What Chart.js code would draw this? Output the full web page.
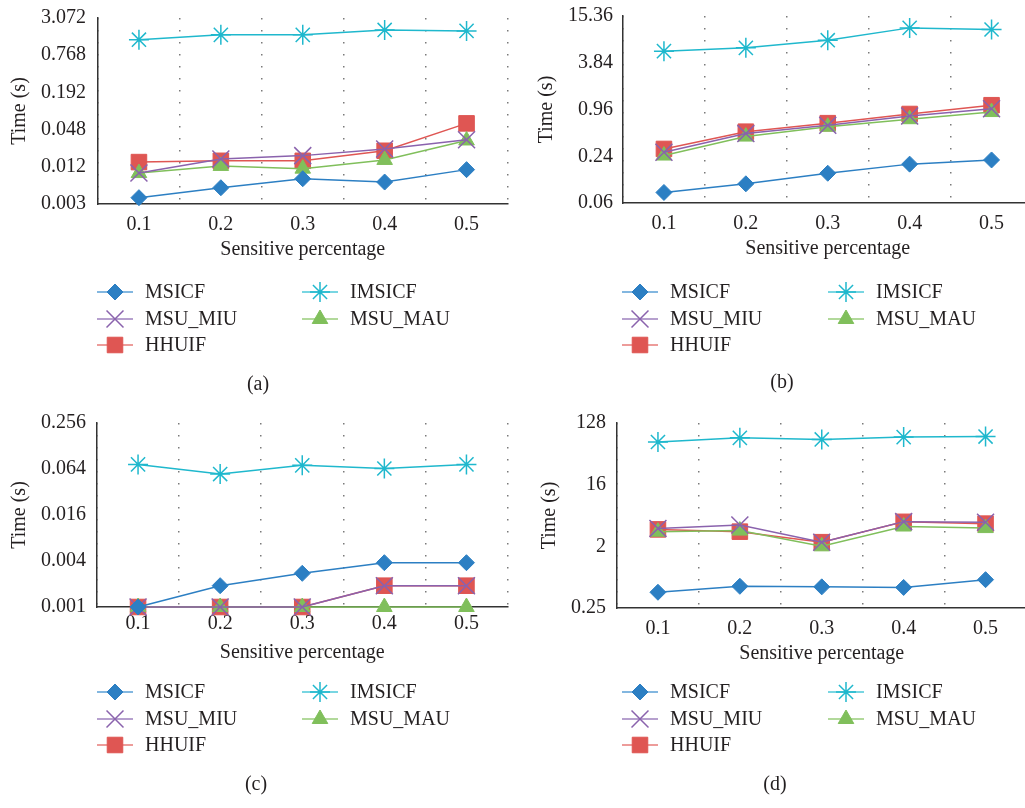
<!DOCTYPE html>
<html>
<head>
<meta charset="utf-8">
<script src="https://cdn.jsdelivr.net/npm/chart.js@4.4.0/dist/chart.umd.min.js"></script>
<style>
  body { margin: 0; background: #fff; width: 1025px; height: 808px; overflow: hidden; position: relative; }
  canvas { position: absolute; }
</style>
</head>
<body>
<canvas id="chartA" width="521" height="406" style="left:0;top:-6px"></canvas>
<canvas id="chartB" width="534" height="406" style="left:512px;top:-6px"></canvas>
<canvas id="chartC" width="521" height="408" style="left:0;top:400px"></canvas>
<canvas id="chartD" width="528" height="408" style="left:512px;top:400px"></canvas>
<script>
// categories and series names
var categories = ['0.1', '0.2', '0.3', '0.4', '0.5'];
var seriesNames = ['MSICF', 'IMSICF', 'MSU_MIU', 'MSU_MAU', 'HHUIF'];

// (a)
var aMSICF   = [0.0038, 0.0055, 0.0077, 0.0068, 0.0108];
var aIMSICF  = [1.37, 1.64, 1.64, 1.97, 1.90];
var aMSU_MIU = [0.0095, 0.0161, 0.0182, 0.0233, 0.0329];
var aMSU_MAU = [0.0095, 0.0124, 0.0112, 0.0155, 0.032];
var aHHUIF   = [0.0143, 0.0150, 0.0150, 0.0218, 0.0605];
var aTicks   = [0.003, 0.012, 0.048, 0.192, 0.768, 3.072];

// (b)
var bMSICF   = [0.082, 0.106, 0.145, 0.19, 0.215];
var bIMSICF  = [5.42, 5.97, 7.5, 10.8, 10.3];
var bMSU_MIU = [0.27, 0.47, 0.60, 0.79, 0.98];
var bMSU_MAU = [0.245, 0.43, 0.576, 0.72, 0.89];
var bHHUIF   = [0.298, 0.497, 0.64, 0.84, 1.09];
var bTicks   = [0.06, 0.24, 0.96, 3.84, 15.36];

// (c)
var cMSICF   = [0.001, 0.0019, 0.00276, 0.0038, 0.0038];
var cIMSICF  = [0.0735, 0.055, 0.0714, 0.065, 0.0735];
var cMSU_MIU = [0.001, 0.001, 0.001, 0.0019, 0.0019];
var cMSU_MAU = [0.001, 0.001, 0.001, 0.001, 0.001];
var cHHUIF   = [0.001, 0.001, 0.001, 0.0019, 0.0019];
var cTicks   = [0.001, 0.004, 0.016, 0.064, 0.256];

// (d)
var dMSICF   = [0.425, 0.52, 0.51, 0.50, 0.65];
var dIMSICF  = [67.4, 77.6, 73.5, 79.5, 81];
var dMSU_MIU = [3.66, 4.1, 2.3, 4.6, 4.5];
var dMSU_MAU = [3.28, 3.4, 2.0, 3.9, 3.7];
var dHHUIF   = [3.54, 3.28, 2.3, 4.57, 4.3];
var dTicks   = [0.25, 2, 16, 128];

var FONT = "'Liberation Serif', 'Times New Roman', serif";
var TEXT = '#231F20';

var styles = {
  MSICF:   { color: '#2C7FC3', legendLine: '#5A9FD6', pointStyle: 'rectRot',  radius: 8,  bw: 1 },
  IMSICF:  { color: '#1FB8CD', legendLine: '#4CC8D9', pointStyle: 'star',     radius: 10, bw: 1.5 },
  MSU_MIU: { color: '#8A62AD', legendLine: '#9E80BE', pointStyle: 'crossRot', radius: 12, bw: 1.5 },
  MSU_MAU: { color: '#80BF5B', legendLine: '#98CC7A', pointStyle: 'triangle', radius: 9,  bw: 1 },
  HHUIF:   { color: '#DF5653', legendLine: '#E77B78', pointStyle: 'rect',     radius: 11, bw: 1 }
};
// legend slot [column,row] for each series
var slots = { MSICF: [0, 0], IMSICF: [1, 0], MSU_MIU: [0, 1], MSU_MAU: [1, 1], HHUIF: [0, 2] };

// draws the two-column legend and the panel caption
var legendPlugin = {
  id: 'panelLegend',
  afterDraw: function(chart, args, opts) {
    var ctx = chart.ctx;
    ctx.save();
    chart.data.datasets.forEach(function(ds) {
      var s = styles[ds.label];
      var slot = slots[ds.label];
      var x = opts.cols[slot[0]];
      var y = opts.rows[slot[1]] + opts.dy;
      ctx.strokeStyle = s.legendLine;
      ctx.lineWidth = 1.5;
      ctx.setLineDash([]);
      ctx.beginPath();
      ctx.moveTo(x, y);
      ctx.lineTo(x + 36, y);
      ctx.stroke();
      ctx.strokeStyle = s.color;
      ctx.fillStyle = s.color;
      ctx.lineWidth = s.bw;
      Chart.helpers.drawPoint(ctx, { pointStyle: s.pointStyle, radius: s.radius, rotation: 0, borderWidth: s.bw }, x + 18, y);
      ctx.fillStyle = TEXT;
      ctx.font = '20px ' + FONT;
      ctx.textBaseline = 'middle';
      ctx.textAlign = 'left';
      ctx.fillText(ds.label, x + 48, y + 1);
    });
    ctx.font = '20px ' + FONT;
    ctx.fillStyle = TEXT;
    ctx.textAlign = 'center';
    ctx.textBaseline = 'middle';
    ctx.fillText(opts.caption, opts.capX, opts.capY + opts.dy);
    ctx.restore();
  }
};

function makeChart(id, data, ticks, geo) {
  var datasets = seriesNames.map(function(name, i) {
    var s = styles[name];
    return {
      label: name,
      data: data[i],
      borderColor: s.color,
      backgroundColor: s.color,
      borderWidth: 1.5,
      pointStyle: s.pointStyle,
      pointRadius: s.radius,
      pointHoverRadius: s.radius,
      pointBorderWidth: s.bw,
      pointBackgroundColor: s.color,
      pointBorderColor: s.color,
      tension: 0,
      clip: false
    };
  });
  new Chart(document.getElementById(id), {
    type: 'line',
    data: { labels: categories, datasets: datasets },
    plugins: [legendPlugin],
    options: {
      responsive: false,
      animation: false,
      layout: { padding: { top: geo.top, right: 0, bottom: geo.bottom, left: 0 } },
      plugins: {
        legend: { display: false },
        tooltip: { enabled: false },
        panelLegend: { cols: geo.cols, rows: [292, 319, 345], dy: geo.dy, caption: geo.caption, capX: geo.capX, capY: geo.capY }
      },
      scales: {
        x: {
          offset: true,
          grid: { offset: true, display: true, drawTicks: false, color: '#7a7a7a', lineWidth: 1.5 },
          border: { display: true, color: '#333', width: 1.5, dash: [1.5, 10.5] },
          ticks: { color: TEXT, font: { family: FONT, size: 20 }, padding: geo.xPad, maxRotation: 0 },
          title: { display: true, text: 'Sensitive percentage', color: TEXT, font: { family: FONT, size: 20 }, padding: { top: 0, bottom: 2 } },
          afterFit: function(scale) { scale.height = 60; }
        },
        y: {
          type: 'logarithmic',
          min: ticks[0],
          max: ticks[ticks.length - 1],
          grid: { display: false, drawTicks: false },
          border: { display: true, color: '#333', width: 1.5 },
          ticks: {
            color: TEXT, font: { family: FONT, size: 20 }, padding: geo.labelPad,
            callback: function(v) { return String(v); }
          },
          afterBuildTicks: function(scale) {
            scale.ticks = ticks.map(function(v) { return { value: v }; });
          },
          title: { display: true, text: 'Time (s)', color: TEXT, font: { family: FONT, size: 20 }, padding: { top: geo.titlePad, bottom: 0 } },
          afterFit: function(scale) { scale.width = geo.yWidth; }
        }
      }
    }
  });
}

makeChart('chartA', [aMSICF, aIMSICF, aMSU_MIU, aMSU_MAU, aHHUIF], aTicks,
  { top: 21, bottom: 136, dy: 6, yWidth: 98, labelPad: 12, titlePad: 8, xPad: 9, cols: [97, 302], caption: '(a)', capX: 258, capY: 385 });
makeChart('chartB', [bMSICF, bIMSICF, bMSU_MIU, bMSU_MAU, bHHUIF], bTicks,
  { top: 21, bottom: 137, dy: 6, yWidth: 111, labelPad: 10, titlePad: 23, xPad: 9, cols: [110, 316], caption: '(b)', capX: 270, capY: 383 });
makeChart('chartC', [cMSICF, cIMSICF, cMSU_MIU, cMSU_MAU, cHHUIF], cTicks,
  { top: 19, bottom: 141, dy: 0, yWidth: 97, labelPad: 11, titlePad: 8, xPad: 5, cols: [97, 302], caption: '(c)', capX: 256, capY: 385 });
makeChart('chartD', [dMSICF, dIMSICF, dMSU_MIU, dMSU_MAU, dHHUIF], dTicks,
  { top: 20, bottom: 140, dy: 0, yWidth: 105, labelPad: 11, titlePad: 26, xPad: 9, cols: [110, 316], caption: '(d)', capX: 263, capY: 385 });
</script>
</body>
</html>
